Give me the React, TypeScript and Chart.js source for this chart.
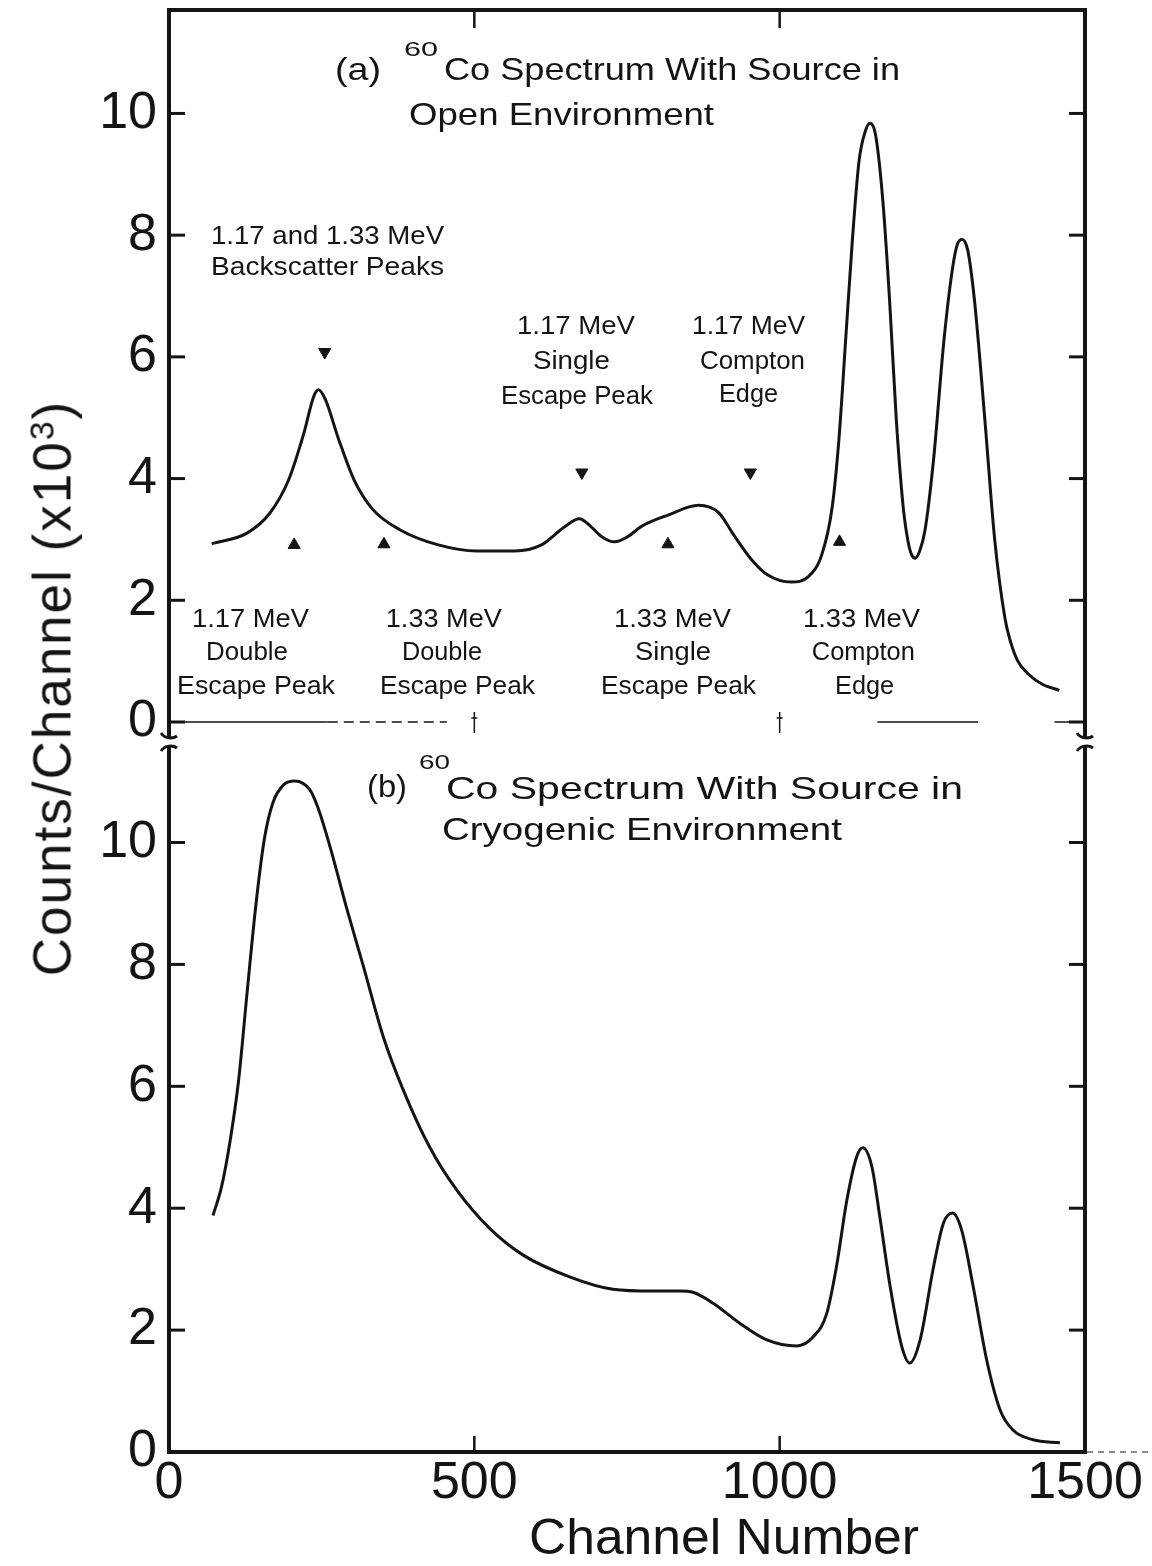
import React, { useEffect, useRef } from "react";
import { Chart, registerables } from "chart.js";

Chart.register(...registerables);

const INK = "#141414";
const FONT = '"Liberation Sans", Arial, sans-serif';

// ---- axes ----
const X_TICKS = [0, 500, 1000, 1500];
const Y_TICKS = [0, 2, 4, 6, 8, 10];
const X_MIN = 0;
const X_MAX = 1500;
const OPEN_Y_MAX = 11.7;
const CRYO_Y_MAX = 11.6;

// ---- (a) open environment spectrum: channel, counts (x10^3) ----
const OPEN_CHANNEL = [
  70, 127, 165, 196, 221, 237, 245, 256, 278, 303,
  334, 378, 441, 504, 566, 610, 648, 672, 690, 708,
  730, 752, 773, 817, 867, 900, 925, 953, 980, 1019,
  1047, 1069, 1086, 1097, 1108, 1119, 1130, 1140, 1148, 1157,
  1169, 1180, 1191, 1203, 1210, 1216, 1222, 1229, 1238, 1252,
  1269, 1283, 1291, 1299, 1308, 1319, 1336, 1352, 1369, 1378,
  1390, 1408, 1430, 1458,
];
const OPEN_COUNTS = [
  2.93, 3.10, 3.43, 3.98, 4.75, 5.35, 5.46, 5.30, 4.64, 3.98,
  3.49, 3.16, 2.91, 2.81, 2.81, 2.91, 3.21, 3.34, 3.22, 3.05,
  2.96, 3.05, 3.21, 3.40, 3.56, 3.44, 3.07, 2.68, 2.42, 2.30,
  2.39, 2.75, 3.53, 4.64, 6.27, 7.91, 9.22, 9.70, 9.84, 9.65,
  8.56, 6.93, 4.97, 3.46, 2.98, 2.75, 2.69, 2.80, 3.15, 4.31,
  6.27, 7.45, 7.85, 7.93, 7.75, 6.93, 4.97, 3.01, 1.70, 1.32,
  1.00, 0.78, 0.62, 0.52,
];

// ---- (b) cryogenic environment spectrum ----
const CRYO_CHANNEL = [
  72, 86, 100, 114, 128, 142, 156, 170, 188, 206,
  231, 244, 264, 291, 318, 351, 384, 427, 471, 526,
  580, 657, 727, 793, 837, 858, 891, 935, 979, 1028,
  1055, 1077, 1093, 1110, 1126, 1136, 1151, 1164, 1181, 1200,
  1213, 1230, 1252, 1268, 1283, 1298, 1317, 1339, 1361, 1382,
  1415, 1459,
];
const CRYO_COUNTS = [
  3.88, 4.35, 5.10, 6.10, 7.55, 8.95, 10.05, 10.65, 10.95, 11.01,
  10.86, 10.57, 9.92, 8.92, 7.98, 6.81, 5.93, 5.00, 4.30, 3.66,
  3.23, 2.87, 2.67, 2.64, 2.64, 2.62, 2.44, 2.11, 1.84, 1.74,
  1.89, 2.27, 3.04, 4.13, 4.84, 4.99, 4.68, 3.86, 2.71, 1.73,
  1.46, 1.84, 3.04, 3.75, 3.92, 3.64, 2.71, 1.51, 0.69, 0.36,
  0.20, 0.15,
];

// ---- arrow markers in panel (a) ----
const MARK_DOWN_CHANNEL = [255, 676, 952];
const MARK_DOWN_COUNTS = [6.08, 4.1, 4.1];
const MARK_UP_CHANNEL = [205, 352, 817, 1098];
const MARK_UP_COUNTS = [2.91, 2.92, 2.92, 2.96];

type Note = {
  text: string;
  ch: number;
  v: number;
  w: number;
  size: number;
  align: CanvasTextAlign;
};

const n = (text: string, ch: number, v: number, w: number, size = 26, align: CanvasTextAlign = "center"): Note => ({
  text, ch, v, w, size, align,
});

const OPEN_NOTES: Note[] = [
  n("(a)", 271.8, 10.69, 46, 32, "left"),
  n("60", 384.8, 11.04, 34, 21, "left"),
  n("Co Spectrum With Source in", 450.3, 10.69, 456, 32, "left"),
  n("Open Environment", 393, 9.95, 305, 32, "left"),
  n("1.17 and 1.33 MeV", 259.6, 7.98, 233),
  n("Backscatter Peaks", 259.6, 7.47, 233),
  n("1.17 MeV", 666.5, 6.5, 118),
  n("Single", 659, 5.92, 77),
  n("Escape Peak", 668, 5.35, 152),
  n("1.17 MeV", 949, 6.5, 113),
  n("Compton", 955.5, 5.92, 105),
  n("Edge", 949, 5.38, 59),
  n("1.17 MeV", 133.5, 1.68, 117),
  n("Double", 127.7, 1.13, 82),
  n("Escape Peak", 142.5, 0.58, 158),
  n("1.33 MeV", 450, 1.68, 116),
  n("Double", 447, 1.13, 80),
  n("Escape Peak", 472.4, 0.58, 155),
  n("1.33 MeV", 824.5, 1.68, 117),
  n("Single", 825.3, 1.13, 76),
  n("Escape Peak", 834.3, 0.58, 155),
  n("1.33 MeV", 1134, 1.68, 117),
  n("Compton", 1137, 1.13, 103),
  n("Edge", 1139, 0.58, 59),
];

const CRYO_NOTES: Note[] = [
  n("(b)", 324.2, 10.89, 40, 32, "left"),
  n("60", 409.4, 11.3, 31, 21, "left"),
  n("Co Spectrum With Source in", 453.6, 10.86, 517, 32, "left"),
  n("Cryogenic Environment", 447, 10.18, 400, 32, "left"),
  n("Channel Number", 908.8, -1.44, 390, 50),
];

function fitText(ctx: CanvasRenderingContext2D, note: Note, x: number, y: number) {
  ctx.save();
  ctx.font = `${note.size}px ${FONT}`;
  const natural = ctx.measureText(note.text).width || 1;
  ctx.translate(x, y);
  ctx.scale(note.w / natural, 1);
  ctx.textAlign = note.align;
  ctx.textBaseline = "middle";
  ctx.fillStyle = INK;
  ctx.fillText(note.text, 0, 0);
  ctx.restore();
}

function line(ctx: CanvasRenderingContext2D, x1: number, y1: number, x2: number, y2: number) {
  ctx.beginPath();
  ctx.moveTo(x1, y1);
  ctx.lineTo(x2, y2);
  ctx.stroke();
}

function panelPlugin(kind: "open" | "cryo", notes: Note[]) {
  return {
    id: "panel-" + kind,
    afterDraw(chart: any) {
      const { ctx, chartArea } = chart;
      const { left, right, top, bottom } = chartArea;
      const xs = chart.scales.x;
      const ys = chart.scales.y;
      ctx.save();
      ctx.strokeStyle = INK;
      ctx.fillStyle = INK;
      ctx.lineCap = "butt";

      // frame
      ctx.lineWidth = 4;
      ctx.beginPath();
      if (kind === "open") {
        ctx.moveTo(left, bottom + 15);
        ctx.lineTo(left, top);
        ctx.lineTo(right, top);
        ctx.lineTo(right, bottom + 15);
      } else {
        ctx.moveTo(left, top + 2);
        ctx.lineTo(left, bottom);
        ctx.lineTo(right, bottom);
        ctx.lineTo(right, top + 2);
      }
      ctx.stroke();

      // axis-break curls
      ctx.lineWidth = 3;
      const cy = kind === "open" ? bottom + 15 : top + 2;
      [left, right].forEach((cx) => {
        ctx.beginPath();
        if (kind === "open") {
          ctx.moveTo(cx - 8, cy - 4);
          ctx.bezierCurveTo(cx - 4, cy + 2, cx + 4, cy + 2, cx + 8, cy - 1);
        } else {
          ctx.moveTo(cx - 8, cy + 4);
          ctx.bezierCurveTo(cx - 4, cy - 2, cx + 4, cy - 2, cx + 8, cy + 1);
        }
        ctx.stroke();
      });

      // inward y ticks, both sides
      ctx.lineWidth = 3;
      Y_TICKS.forEach((v) => {
        const py = ys.getPixelForValue(v);
        line(ctx, left, py, left + 16, py);
        line(ctx, right, py, right - 16, py);
      });

      // x ticks (inner)
      ctx.lineWidth = 2.5;
      X_TICKS.slice(1, -1).forEach((v) => {
        const px = xs.getPixelForValue(v);
        if (kind === "open") line(ctx, px, top, px, top + 18);
        else line(ctx, px, bottom, px, bottom - 16);
      });

      if (kind === "open") {
        // broken zero line
        const y0 = ys.getPixelForValue(0);
        ctx.lineWidth = 1.5;
        line(ctx, xs.getPixelForValue(0), y0, xs.getPixelForValue(260), y0);
        ctx.setLineDash([10, 6]);
        line(ctx, xs.getPixelForValue(260), y0, xs.getPixelForValue(455), y0);
        ctx.setLineDash([]);
        line(ctx, xs.getPixelForValue(1160), y0, xs.getPixelForValue(1325), y0);
        line(ctx, xs.getPixelForValue(1450), y0, xs.getPixelForValue(1500), y0);
        [500, 1000].forEach((v) => {
          const px = xs.getPixelForValue(v);
          line(ctx, px, y0 - 10, px, y0 + 11);
          line(ctx, px - 3, y0 - 4, px + 3, y0 - 4);
        });
      } else {
        ctx.lineWidth = 1.2;
        ctx.setLineDash([6, 5]);
        line(ctx, right + 2, bottom, chart.width, bottom);
        ctx.setLineDash([]);
      }

      notes.forEach((note) => fitText(ctx, note, xs.getPixelForValue(note.ch), ys.getPixelForValue(note.v)));
      ctx.restore();
    },
  };
}

function pairs(xs: number[], ys: number[]) {
  return xs.map((x, i) => ({ x, y: ys[i] }));
}

function yScale(max: number) {
  return {
    type: "linear",
    min: 0,
    max,
    afterBuildTicks: (s: any) => {
      s.ticks = Y_TICKS.map((value) => ({ value }));
    },
    afterFit: (s: any) => {
      s.width = 169;
    },
    grid: { display: false, drawTicks: false },
    border: { display: false },
    ticks: {
      color: INK,
      padding: 12,
      callback: (v: any) => String(v),
      font: { family: FONT, size: 52, lineHeight: 0.2 },
    },
  };
}

function SpectrumPanel(props: { kind: "open" | "cryo"; top: number; height: number }) {
  const ref = useRef<HTMLCanvasElement | null>(null);
  const { kind, top, height } = props;

  useEffect(() => {
    const canvas = ref.current;
    if (!canvas) return;
    const isOpen = kind === "open";
    const datasets: any[] = [
      {
        data: isOpen ? pairs(OPEN_CHANNEL, OPEN_COUNTS) : pairs(CRYO_CHANNEL, CRYO_COUNTS),
        borderColor: INK,
        borderWidth: 3,
        pointRadius: 0,
        fill: false,
        cubicInterpolationMode: "monotone",
      },
    ];
    if (isOpen) {
      datasets.push({
        data: pairs(MARK_DOWN_CHANNEL, MARK_DOWN_COUNTS),
        showLine: false,
        pointStyle: "triangle",
        pointRotation: 180,
        pointRadius: 7,
        pointBorderWidth: 1,
        backgroundColor: INK,
        borderColor: INK,
      });
      datasets.push({
        data: pairs(MARK_UP_CHANNEL, MARK_UP_COUNTS),
        showLine: false,
        pointStyle: "triangle",
        pointRadius: 7,
        pointBorderWidth: 1,
        backgroundColor: INK,
        borderColor: INK,
      });
    }

    const xScale: any = {
      type: "linear",
      min: X_MIN,
      max: X_MAX,
      display: !isOpen,
      afterBuildTicks: (s: any) => {
        s.ticks = X_TICKS.map((value) => ({ value }));
      },
      grid: { display: false, drawTicks: false },
      border: { display: false },
      ticks: {
        color: INK,
        padding: 0,
        maxRotation: 0,
        autoSkip: false,
        callback: (v: any) => String(v),
        font: { family: FONT, size: 52, lineHeight: 1.2 },
      },
    };
    if (!isOpen) {
      xScale.afterFit = (s: any) => {
        s.height = 114;
      };
    }

    const chart = new Chart(canvas, {
      type: "line",
      data: { datasets },
      options: {
        animation: false,
        responsive: false,
        devicePixelRatio: 1,
        events: [],
        layout: {
          padding: isOpen
            ? { top: 40, bottom: 48, left: 0, right: 67 }
            : { top: 25, bottom: 0, left: 0, right: 67 },
        },
        plugins: {
          legend: { display: false },
          tooltip: { enabled: false },
        },
        scales: {
          x: xScale,
          y: yScale(isOpen ? OPEN_Y_MAX : CRYO_Y_MAX) as any,
        },
      },
      plugins: [panelPlugin(kind, isOpen ? OPEN_NOTES : CRYO_NOTES)],
    } as any);
    return () => chart.destroy();
  }, [kind]);

  return (
    <canvas
      ref={ref}
      width={1152}
      height={height}
      style={{ position: "absolute", left: 0, top, width: 1152, height }}
    />
  );
}

export default function App() {
  return (
    <div
      style={{
        position: "absolute",
        left: 0,
        top: 0,
        width: 1152,
        height: 1566,
        background: "#fff",
        overflow: "hidden",
      }}
    >
      <SpectrumPanel kind="open" top={-30} height={800} />
      <SpectrumPanel kind="cryo" top={720} height={846} />
      <div
        style={{
          position: "absolute",
          left: 52,
          top: 688,
          transform: "translate(-50%, -50%) rotate(-90deg)",
          whiteSpace: "nowrap",
          fontFamily: FONT,
          fontSize: 53,
          lineHeight: 1,
          letterSpacing: "2px",
          color: INK,
        }}
      >
        Counts/Channel (x10
        <sup style={{ fontSize: 34, lineHeight: 0, verticalAlign: "0.5em" }}>3</sup>)
      </div>
    </div>
  );
}
